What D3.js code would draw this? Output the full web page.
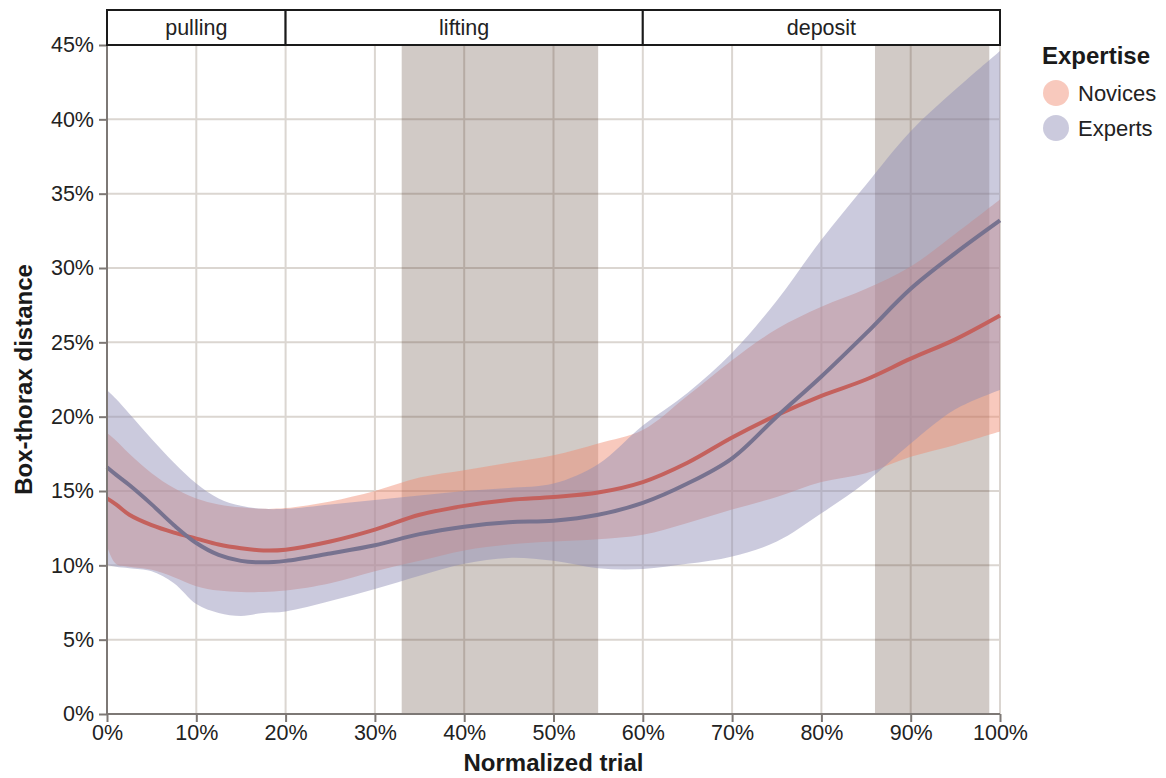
<!DOCTYPE html>
<html>
<head>
<meta charset="utf-8">
<script src="https://cdn.jsdelivr.net/npm/d3@7"></script>
<style>
  body { margin: 0; background: #fff; }
  text { font-family: 'Liberation Sans', Arial, sans-serif; }
</style>
</head>
<body>
<div id="graf"></div>
<script>
// Datos (en %)
trial = [0, 1, 2.5, 5, 7.5, 10, 12.5, 15, 17.5, 20, 25, 30, 35, 40, 45, 50, 55, 60, 65, 70, 75, 80, 85, 90, 95, 100]

novMean  = [14.5, 14.1, 13.4, 12.7, 12.2, 11.8, 11.4, 11.15, 11.0, 11.05, 11.6, 12.4, 13.4, 14.0, 14.4, 14.6, 14.9, 15.6, 16.9, 18.6, 20.1, 21.4, 22.5, 23.9, 25.2, 26.8]
novUpper = [18.9, 18.4, 17.5, 16.2, 15.2, 14.5, 14.1, 13.9, 13.8, 13.85, 14.3, 15.0, 15.9, 16.4, 16.9, 17.4, 18.2, 19.1, 21.4, 23.8, 25.9, 27.4, 28.6, 30.1, 32.3, 34.6]
novLower = [11.3, 10.1, 9.9, 9.7, 9.2, 8.6, 8.3, 8.2, 8.2, 8.3, 8.8, 9.6, 10.3, 11.0, 11.4, 11.6, 11.75, 12.05, 12.85, 13.75, 14.6, 15.6, 16.2, 17.3, 18.1, 19.0]

expMean  = [16.6, 16.1, 15.4, 14.1, 12.7, 11.5, 10.7, 10.3, 10.2, 10.3, 10.8, 11.35, 12.1, 12.6, 12.9, 13.0, 13.4, 14.2, 15.5, 17.2, 20.0, 22.7, 25.6, 28.6, 31.0, 33.2]
expUpper = [21.8, 21.2, 20.2, 18.5, 16.9, 15.5, 14.5, 14.0, 13.8, 13.8, 14.1, 14.4, 14.7, 15.0, 15.2, 15.5, 16.8, 19.4, 21.6, 24.3, 27.8, 31.9, 35.6, 39.2, 42.0, 44.6]
expLower = [10.0, 9.9, 9.8, 9.6, 8.8, 7.4, 6.8, 6.6, 6.8, 6.9, 7.6, 8.4, 9.3, 10.1, 10.5, 10.3, 9.8, 9.75, 10.1, 10.6, 11.6, 13.5, 15.6, 18.2, 20.5, 21.8]

// Fases (cabecera) y zonas sombreadas
phaseNames  = ['pulling', 'lifting', 'deposit']
phaseBounds = [0, 20, 60, 100]
bandStart = [33, 86]
bandEnd   = [55, 98.8]

xTicks = [0, 10, 20, 30, 40, 50, 60, 70, 80, 90, 100]
yTicks = [0, 5, 10, 15, 20, 25, 30, 35, 40, 45]

groups = ['Novices', 'Experts']

ancho_total = 1166
alto_total  = 778
margins = { top: 45, left: 107, right: 166, bottom: 64 }
ancho = ancho_total - margins.left - margins.right
alto  = alto_total - margins.top - margins.bottom

svg = d3.select('#graf').append('svg')
        .attr('width', ancho_total)
        .attr('height', alto_total)

g = svg.append('g')
        .attr('transform', `translate(${margins.left}, ${margins.top})`)

// Escaladores
x = d3.scaleLinear().domain([0, 100]).range([0, ancho])
y = d3.scaleLinear().domain([0, 45]).range([alto, 0])
fillColor = d3.scaleOrdinal().domain(groups).range(['#f08a70', '#8e8cb4'])
lineColor = d3.scaleOrdinal().domain(groups).range(['#c4615d', '#77728f'])

// Rejilla
g.append('g').selectAll('line').data(xTicks).join('line')
  .attr('x1', d => x(d)).attr('x2', d => x(d))
  .attr('y1', 0).attr('y2', alto)
  .attr('stroke', '#dbd6d1').attr('stroke-width', 2)
g.append('g').selectAll('line').data(yTicks).join('line')
  .attr('x1', 0).attr('x2', ancho)
  .attr('y1', d => y(d)).attr('y2', d => y(d))
  .attr('stroke', '#dbd6d1').attr('stroke-width', 2)

// Zonas grises
g.append('g').selectAll('rect').data(bandStart).join('rect')
  .attr('x', d => x(d))
  .attr('width', (d, i) => x(bandEnd[i]) - x(d))
  .attr('y', 0).attr('height', alto)
  .attr('fill', '#4c3223').attr('fill-opacity', 0.26)

// Bandas y líneas
series = [
  { name: 'Novices', mean: novMean, lo: novLower, hi: novUpper },
  { name: 'Experts', mean: expMean, lo: expLower, hi: expUpper }
]

areaGen = d3.area()
  .x(d => x(d.t)).y0(d => y(d.lo)).y1(d => y(d.hi))
  .curve(d3.curveCatmullRom)
lineaGen = d3.line()
  .x(d => x(d.t)).y(d => y(d.m))
  .curve(d3.curveCatmullRom)

series.forEach(s => {
  pts = trial.map((t, i) => ({ t: t, m: s.mean[i], lo: s.lo[i], hi: s.hi[i] }))
  g.append('path')
    .attr('d', areaGen(pts))
    .attr('fill', fillColor(s.name))
    .attr('fill-opacity', 0.46)
})
series.forEach(s => {
  pts = trial.map((t, i) => ({ t: t, m: s.mean[i] }))
  g.append('path')
    .attr('d', lineaGen(pts))
    .attr('fill', 'none')
    .attr('stroke', lineColor(s.name))
    .attr('stroke-width', 4)
})

// Ejes
xAxis = g.append('g')
  .attr('transform', `translate(0, ${alto})`)
  .call(d3.axisBottom(x).tickValues(xTicks).tickFormat(d => d + '%').tickSize(8).tickPadding(3))
yAxis = g.append('g')
  .call(d3.axisLeft(y).tickValues(yTicks).tickFormat(d => d + '%').tickSize(8).tickPadding(5))

;[xAxis, yAxis].forEach(a => {
  a.select('.domain').attr('stroke', '#7d7875').attr('stroke-width', 2)
  a.selectAll('.tick line').attr('stroke', '#7d7875').attr('stroke-width', 2)
  a.selectAll('.tick text').attr('fill', '#222').style('font-size', '21.5px')
})
xAxis.select('.domain').attr('d', `M0,0H${ancho}`)
yAxis.select('.domain').attr('d', `M0,${alto}V0`)

// Cabecera de fases
strip = svg.append('g').attr('transform', `translate(${margins.left}, 0)`)
phaseNames.forEach((p, i) => {
  strip.append('rect')
    .attr('x', x(phaseBounds[i]))
    .attr('y', 10)
    .attr('width', x(phaseBounds[i + 1]) - x(phaseBounds[i]))
    .attr('height', margins.top - 10)
    .attr('fill', '#fff')
    .attr('stroke', '#1a1a1a')
    .attr('stroke-width', 2)
  strip.append('text')
    .attr('x', (x(phaseBounds[i]) + x(phaseBounds[i + 1])) / 2)
    .attr('y', 35)
    .attr('text-anchor', 'middle')
    .attr('fill', '#222')
    .style('font-size', '21.5px')
    .text(p)
})

// Títulos de ejes
svg.append('text')
  .attr('x', margins.left + ancho / 2)
  .attr('y', 771)
  .attr('text-anchor', 'middle')
  .style('font-size', '24px').style('font-weight', 'bold')
  .attr('fill', '#1a1a1a')
  .text('Normalized trial')
svg.append('text')
  .attr('transform', `translate(32, ${margins.top + alto / 2}) rotate(-90)`)
  .attr('text-anchor', 'middle')
  .style('font-size', '24px').style('font-weight', 'bold')
  .attr('fill', '#1a1a1a')
  .text('Box-thorax distance')

// Leyenda
leg = svg.append('g').attr('transform', 'translate(1042, 0)')
leg.append('text')
  .attr('x', 0).attr('y', 64)
  .style('font-size', '24px').style('font-weight', 'bold')
  .attr('fill', '#1a1a1a')
  .text('Expertise')
groups.forEach((gr, i) => {
  leg.append('circle')
    .attr('cx', 14).attr('cy', 93 + i * 35)
    .attr('r', 13)
    .attr('fill', fillColor(gr)).attr('fill-opacity', 0.46)
  leg.append('text')
    .attr('x', 36).attr('y', 101 + i * 35)
    .style('font-size', '22px')
    .attr('fill', '#222')
    .text(gr)
})
</script>
</body>
</html>
